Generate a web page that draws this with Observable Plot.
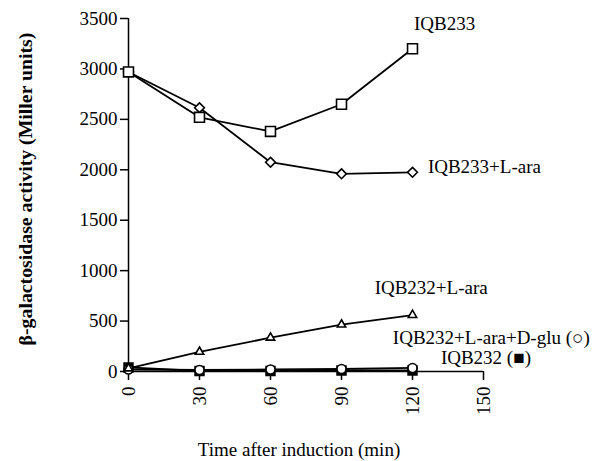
<!DOCTYPE html>
<html><head><meta charset="utf-8">
<script src="https://cdn.jsdelivr.net/npm/d3@7"></script>
<script src="https://cdn.jsdelivr.net/npm/@observablehq/plot@0.6"></script>
<style>
body{margin:0;background:#fff}
svg text{font-family:'Liberation Serif','Times New Roman',serif !important;font-variant:normal !important}
</style>
</head><body><div id="chart"></div>
<script>
// ---- data ----
const times = [0, 30, 60, 90, 120];
const iqb233 = [2970, 2520, 2380, 2650, 3200];          // open squares
const iqb233Lara = [2970, 2615, 2075, 1960, 1975];      // open diamonds
const iqb232Lara = [30, 195, 335, 465, 560];            // open triangles
const iqb232LaraDglu = [20, 15, 20, 25, 35];            // open circles
const iqb232 = [40, 5, 5, 10, 10];                      // filled squares
const yTicks = [0, 500, 1000, 1500, 2000, 2500, 3000, 3500];
const xTicks = [0, 30, 60, 90, 120, 150];
const labelTexts = ["IQB233", "IQB233+L-ara", "IQB232+L-ara", "IQB232+L-ara+D-glu (\u25CB)", "IQB232 (\u25A0)"];
const labelX = [120.6, 126.5, 104, 111.7, 132];
const labelY = [3445, 2033, 833, 337, 139];
const yTitle = "\u03B2-galactosidase activity (Miller units)";
const xTitle = "Time after induction (min)";

const rows = vals => times.map((t, i) => ({t, v: vals[i]}));
const labels = labelTexts.map((text, i) => ({text, x: labelX[i], y: labelY[i]}));

const line = vals => Plot.line(rows(vals), {x: "t", y: "v", stroke: "black", strokeWidth: 1.8});
const dots = (vals, symbol, r, fill) => Plot.dot(rows(vals), {x: "t", y: "v", symbol, r, fill, stroke: "black", strokeWidth: 1.6});
const serif = "'Liberation Serif', 'Times New Roman', serif";

const chart = Plot.plot({
  width: 595, height: 461,
  marginLeft: 128, marginRight: 112, marginTop: 18, marginBottom: 90,
  style: {fontFamily: serif, fontSize: "19px", color: "black", background: "white", overflow: "visible"},
  x: {domain: [0, 150]},
  y: {domain: [0, 3500]},
  marks: [
    Plot.ruleX([0], {y1: 0, y2: 3500, stroke: "black", strokeWidth: 1.5}),
    Plot.ruleY([0], {x1: 0, x2: 150, stroke: "black", strokeWidth: 1.5}),
    Plot.axisY({ticks: yTicks, tickSize: 8, tickPadding: 3, tickFormat: d => String(d), label: null, strokeWidth: 1.5, fontFamily: serif, fontSize: 19}),
    Plot.axisX({ticks: xTicks, tickSize: 9, tickPadding: 6, tickRotate: -90, tickFormat: d => String(d), label: null, strokeWidth: 1.5, fontFamily: serif, fontSize: 19}),
    line(iqb232),
    line(iqb232LaraDglu),
    line(iqb232Lara),
    line(iqb233Lara),
    line(iqb233),
    dots(iqb232, "square", 5, "black"),
    dots(iqb232LaraDglu, "circle", 4.5, "white"),
    dots(iqb232Lara, "triangle2", 4, "white"),
    dots(iqb233Lara, "diamond2", 4.4, "white"),
    dots(iqb233, "square", 5.6, "white"),
    Plot.text(labels, {x: "x", y: "y", text: "text", textAnchor: "start", lineAnchor: "middle", fill: "black", fontFamily: serif, fontSize: 19}),
    Plot.text([yTitle], {frameAnchor: "left", dx: -103, dy: -6, rotate: -90, text: d => d, textAnchor: "middle", lineAnchor: "middle", fill: "black", fontFamily: serif, fontSize: 19.8, fontWeight: "bold"}),
    Plot.text([xTitle], {frameAnchor: "bottom", dx: -7, dy: 78, text: d => d, textAnchor: "middle", lineAnchor: "middle", fill: "black", fontFamily: serif, fontSize: 19})
  ]
});
document.getElementById("chart").append(chart);
</script>
</body></html>
